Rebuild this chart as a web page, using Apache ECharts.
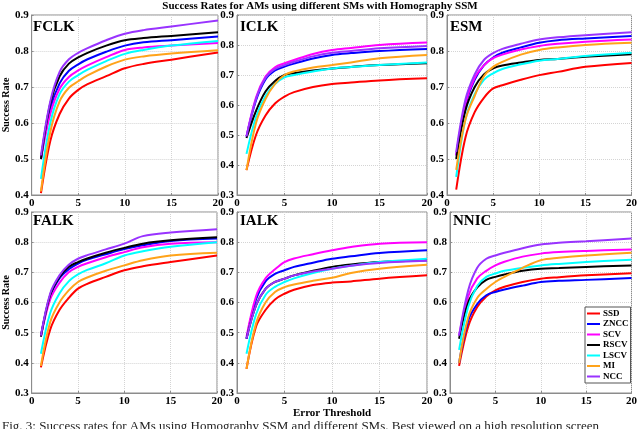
<!DOCTYPE html>
<html>
<head>
<meta charset="utf-8">
<script src="https://cdn.jsdelivr.net/npm/echarts@6/dist/echarts.min.js"></script>
<style>
  html, body { margin: 0; padding: 0; background: #fff; }
  #chart { width: 640px; height: 429px; }
</style>
</head>
<body>
<div id="chart"></div>
<script>
// error thresholds where the curves are sampled
const thresholds = [1, 2, 3, 4, 5, 6, 8, 10, 12, 15, 20]
const smNames = ['SSD', 'ZNCC', 'SCV', 'RSCV', 'LSCV', 'MI', 'NCC']
const smColors = ['#ff0000', '#0000ff', '#ff00ff', '#000000', '#00ffff', '#ffa31a', '#9933ff']
const amNames = ['FCLK', 'ICLK', 'ESM', 'FALK', 'IALK', 'NNIC']
const yMins = [0.4, 0.3, 0.4, 0.3, 0.3, 0.3]

// success rates, one row per SM (same order as smNames)
const fclkRates = [
  [0.405, 0.55, 0.625, 0.668, 0.692, 0.708, 0.73, 0.752, 0.764, 0.776, 0.796],
  [0.50, 0.64, 0.71, 0.745, 0.763, 0.777, 0.798, 0.815, 0.824, 0.83, 0.84],
  [0.50, 0.625, 0.695, 0.728, 0.746, 0.76, 0.783, 0.803, 0.81, 0.815, 0.822],
  [0.50, 0.655, 0.73, 0.765, 0.782, 0.795, 0.815, 0.83, 0.836, 0.842, 0.852],
  [0.445, 0.60, 0.68, 0.715, 0.733, 0.748, 0.772, 0.792, 0.803, 0.815, 0.828],
  [0.41, 0.575, 0.66, 0.698, 0.716, 0.732, 0.757, 0.776, 0.785, 0.793, 0.802],
  [0.51, 0.66, 0.742, 0.777, 0.795, 0.808, 0.83, 0.848, 0.858, 0.868, 0.885]
]
const iclkRates = [
  [0.383, 0.50, 0.565, 0.605, 0.628, 0.643, 0.66, 0.67, 0.675, 0.682, 0.689],
  [0.495, 0.615, 0.685, 0.715, 0.728, 0.738, 0.755, 0.767, 0.773, 0.78, 0.787],
  [0.495, 0.625, 0.695, 0.726, 0.739, 0.75, 0.77, 0.783, 0.79, 0.80, 0.808],
  [0.49, 0.58, 0.645, 0.68, 0.70, 0.706, 0.715, 0.722, 0.727, 0.733, 0.739],
  [0.437, 0.56, 0.63, 0.67, 0.692, 0.70, 0.712, 0.722, 0.727, 0.733, 0.742],
  [0.383, 0.54, 0.62, 0.67, 0.70, 0.712, 0.725, 0.733, 0.742, 0.756, 0.767],
  [0.495, 0.62, 0.69, 0.72, 0.733, 0.744, 0.762, 0.774, 0.78, 0.789, 0.797]
]
const esmRates = [
  [0.415, 0.56, 0.63, 0.67, 0.696, 0.705, 0.72, 0.733, 0.742, 0.756, 0.767],
  [0.51, 0.65, 0.72, 0.76, 0.782, 0.795, 0.81, 0.823, 0.83, 0.835, 0.842],
  [0.51, 0.655, 0.725, 0.76, 0.78, 0.79, 0.804, 0.814, 0.82, 0.826, 0.832],
  [0.50, 0.635, 0.70, 0.735, 0.752, 0.76, 0.768, 0.775, 0.778, 0.784, 0.791],
  [0.45, 0.61, 0.68, 0.72, 0.738, 0.75, 0.763, 0.773, 0.778, 0.786, 0.795],
  [0.47, 0.61, 0.675, 0.73, 0.756, 0.77, 0.79, 0.803, 0.81, 0.817, 0.823],
  [0.52, 0.665, 0.735, 0.775, 0.794, 0.806, 0.82, 0.832, 0.838, 0.844, 0.852]
]
const falkRates = [
  [0.385, 0.51, 0.575, 0.615, 0.646, 0.662, 0.685, 0.707, 0.72, 0.734, 0.756],
  [0.49, 0.62, 0.68, 0.71, 0.729, 0.742, 0.76, 0.777, 0.79, 0.804, 0.812],
  [0.487, 0.61, 0.665, 0.70, 0.718, 0.73, 0.75, 0.767, 0.783, 0.795, 0.80],
  [0.487, 0.625, 0.685, 0.718, 0.734, 0.746, 0.765, 0.781, 0.795, 0.806, 0.816],
  [0.43, 0.565, 0.63, 0.67, 0.693, 0.708, 0.73, 0.756, 0.77, 0.785, 0.80],
  [0.39, 0.535, 0.60, 0.64, 0.668, 0.683, 0.705, 0.723, 0.74, 0.756, 0.765],
  [0.49, 0.63, 0.69, 0.725, 0.745, 0.757, 0.776, 0.795, 0.82, 0.832, 0.843]
]
const ialkRates = [
  [0.38, 0.52, 0.575, 0.61, 0.629, 0.642, 0.658, 0.666, 0.67, 0.679, 0.69],
  [0.48, 0.61, 0.67, 0.695, 0.707, 0.718, 0.732, 0.745, 0.753, 0.764, 0.773],
  [0.486, 0.62, 0.68, 0.71, 0.734, 0.746, 0.76, 0.773, 0.784, 0.795, 0.80],
  [0.48, 0.59, 0.645, 0.668, 0.679, 0.69, 0.705, 0.718, 0.726, 0.734, 0.74],
  [0.43, 0.56, 0.625, 0.652, 0.668, 0.68, 0.698, 0.712, 0.722, 0.734, 0.745],
  [0.38, 0.53, 0.60, 0.635, 0.651, 0.66, 0.672, 0.682, 0.698, 0.712, 0.725],
  [0.48, 0.59, 0.645, 0.668, 0.679, 0.69, 0.703, 0.712, 0.722, 0.731, 0.738]
]
const nnicRates = [
  [0.39, 0.52, 0.585, 0.62, 0.64, 0.652, 0.668, 0.679, 0.684, 0.69, 0.697],
  [0.40, 0.54, 0.595, 0.624, 0.635, 0.643, 0.656, 0.668, 0.672, 0.675, 0.681],
  [0.49, 0.62, 0.68, 0.705, 0.723, 0.735, 0.752, 0.762, 0.767, 0.771, 0.776],
  [0.48, 0.60, 0.65, 0.675, 0.685, 0.693, 0.705, 0.712, 0.714, 0.718, 0.723],
  [0.443, 0.585, 0.655, 0.685, 0.696, 0.705, 0.715, 0.723, 0.728, 0.734, 0.742],
  [0.40, 0.55, 0.615, 0.645, 0.668, 0.685, 0.715, 0.74, 0.748, 0.756, 0.765],
  [0.49, 0.64, 0.715, 0.745, 0.756, 0.765, 0.78, 0.792, 0.798, 0.803, 0.812]
]
const panelRates = [fclkRates, iclkRates, esmRates, falkRates, ialkRates, nnicRates]

const serif = 'Liberation Serif'
// panel boxes
const boxes = [
  { left: 30, top: 15, width: 188, height: 180 },
  { left: 237, top: 15, width: 190, height: 180 },
  { left: 447, top: 15, width: 186, height: 180 },
  { left: 30, top: 212, width: 187, height: 181 },
  { left: 237, top: 212, width: 190, height: 181 },
  { left: 450, top: 212, width: 183, height: 181 }
]

const chart = echarts.init(document.getElementById('chart'))

const grid = boxes.map(b => ({
  left: b.left, top: b.top, width: b.width, height: b.height,
  show: true, borderColor: '#8c8c8c', borderWidth: 1, backgroundColor: '#fff'
}))

const labelStyle = { color: '#000', fontFamily: serif, fontWeight: 'bold', fontSize: 11 }

const xAxis = boxes.map((b, i) => ({
  type: 'value', gridIndex: i, min: 0, max: 20, interval: 5,
  name: i === 4 ? 'Error Threshold' : '',
  nameLocation: 'middle', nameGap: 14,
  nameTextStyle: { color: '#000', fontFamily: serif, fontWeight: 'bold', fontSize: 11 },
  axisLine: { show: true, lineStyle: { color: '#8c8c8c' } },
  axisTick: { show: true, inside: true, length: 2, lineStyle: { color: '#8c8c8c' } },
  axisLabel: Object.assign({ margin: 3 }, labelStyle),
  splitLine: { show: true, lineStyle: { color: '#d4d4d4', type: 'dotted' } }
}))

const yAxis = boxes.map((b, i) => ({
  type: 'value', gridIndex: i, min: yMins[i], max: 0.9, interval: 0.1,
  name: (i === 0 || i === 3) ? 'Success Rate' : '',
  nameLocation: 'middle', nameGap: 20, nameRotate: 90,
  nameTextStyle: { color: '#000', fontFamily: serif, fontWeight: 'bold', fontSize: 10 },
  axisLine: { show: true, lineStyle: { color: '#8c8c8c' } },
  axisTick: { show: true, inside: true, length: 2, lineStyle: { color: '#8c8c8c' } },
  axisLabel: Object.assign({ margin: 3, formatter: v => v.toFixed(1) }, labelStyle),
  splitLine: { show: true, lineStyle: { color: '#d4d4d4', type: 'dotted' } }
}))

const series = []
panelRates.forEach((rates, p) => {
  rates.forEach((row, s) => {
    series.push({
      name: smNames[s],
      type: 'line',
      xAxisIndex: p,
      yAxisIndex: p,
      data: thresholds.map((t, k) => [t, row[k]]),
      smooth: 0.35,
      showSymbol: false,
      lineStyle: { width: 2, color: smColors[s] },
      itemStyle: { color: smColors[s] },
      emphasis: { disabled: true },
      z: 2 + s
    })
  })
})

const graphic = [
  {
    type: 'text', left: 'center', top: 1,
    style: { text: 'Success Rates for AMs using different SMs with Homography SSM', fill: '#000',
      font: 'bold 11px "Liberation Serif"' }
  },
  {
    type: 'text', left: 2, top: 420,
    style: { text: 'Fig. 3: Success rates for AMs using Homography SSM and different SMs. Best viewed on a high resolution screen',
      fill: '#222', font: '13px "Liberation Serif"' }
  }
]
boxes.forEach((b, i) => {
  graphic.push({
    type: 'text', left: b.left + 3, top: b.top + (i < 3 ? 5 : 2), z: 10,
    style: { text: amNames[i], fill: '#000', font: 'bold 15px "Liberation Serif"' }
  })
})

chart.setOption({
  backgroundColor: '#fff',
  animation: false,
  grid: grid,
  xAxis: xAxis,
  yAxis: yAxis,
  series: series,
  graphic: graphic,
  legend: {
    data: smNames,
    orient: 'vertical',
    left: 585, top: 307,
    icon: 'rect',
    itemWidth: 13, itemHeight: 2,
    itemGap: 1.5,
    padding: [2, 2, 2, 2],
    borderColor: '#555', borderWidth: 1,
    backgroundColor: '#fff',
    textStyle: { color: '#000', fontFamily: serif, fontWeight: 'bold', fontSize: 9, padding: [0, 0, 0, -2] },
    z: 20
  }
})
</script>
</body>
</html>
